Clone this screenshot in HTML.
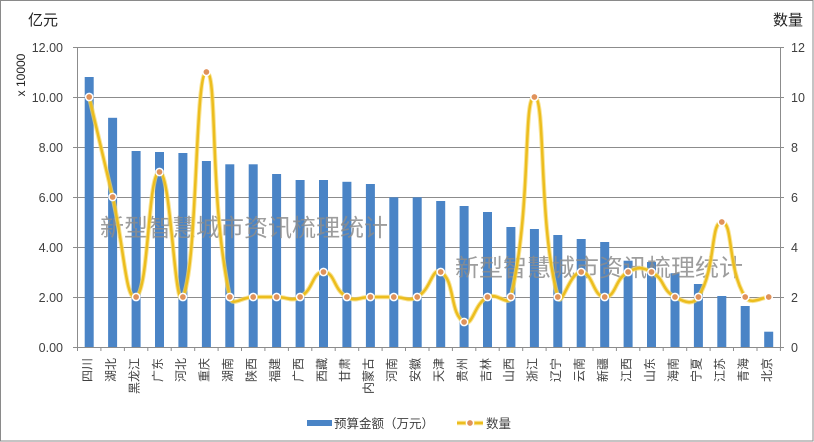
<!DOCTYPE html>
<html><head><meta charset="utf-8"><style>
html,body{margin:0;padding:0;background:#fff;}
svg{display:block;}
text{font-family:"Liberation Sans","Noto Sans CJK SC",sans-serif;}
</style></head><body>
<svg width="814" height="442" viewBox="0 0 814 442" xmlns="http://www.w3.org/2000/svg">
<rect x="0.5" y="0.5" width="812.5" height="440.5" fill="#fff" stroke="#8a8a8a" stroke-width="1"/>
<g stroke="#8c8c8c" stroke-width="1" fill="none">
<line x1="73" y1="47.5" x2="784" y2="47.5"/>
<line x1="73" y1="97.5" x2="784" y2="97.5"/>
<line x1="73" y1="147.5" x2="784" y2="147.5"/>
<line x1="73" y1="197.5" x2="784" y2="197.5"/>
<line x1="73" y1="247.5" x2="784" y2="247.5"/>
<line x1="73" y1="297.5" x2="784" y2="297.5"/>
<line x1="73" y1="347.5" x2="784" y2="347.5"/>
<line x1="77.5" y1="47" x2="77.5" y2="347"/>
<line x1="780.5" y1="47" x2="780.5" y2="347"/>
</g>
<g stroke="#8c8c8c" stroke-width="1">
<line x1="77.5" y1="347" x2="77.5" y2="351"/><line x1="100.9" y1="347" x2="100.9" y2="351"/><line x1="124.4" y1="347" x2="124.4" y2="351"/><line x1="147.8" y1="347" x2="147.8" y2="351"/><line x1="171.2" y1="347" x2="171.2" y2="351"/><line x1="194.7" y1="347" x2="194.7" y2="351"/><line x1="218.1" y1="347" x2="218.1" y2="351"/><line x1="241.5" y1="347" x2="241.5" y2="351"/><line x1="264.9" y1="347" x2="264.9" y2="351"/><line x1="288.4" y1="347" x2="288.4" y2="351"/><line x1="311.8" y1="347" x2="311.8" y2="351"/><line x1="335.2" y1="347" x2="335.2" y2="351"/><line x1="358.7" y1="347" x2="358.7" y2="351"/><line x1="382.1" y1="347" x2="382.1" y2="351"/><line x1="405.5" y1="347" x2="405.5" y2="351"/><line x1="429" y1="347" x2="429" y2="351"/><line x1="452.4" y1="347" x2="452.4" y2="351"/><line x1="475.8" y1="347" x2="475.8" y2="351"/><line x1="499.2" y1="347" x2="499.2" y2="351"/><line x1="522.7" y1="347" x2="522.7" y2="351"/><line x1="546.1" y1="347" x2="546.1" y2="351"/><line x1="569.5" y1="347" x2="569.5" y2="351"/><line x1="593" y1="347" x2="593" y2="351"/><line x1="616.4" y1="347" x2="616.4" y2="351"/><line x1="639.8" y1="347" x2="639.8" y2="351"/><line x1="663.2" y1="347" x2="663.2" y2="351"/><line x1="686.7" y1="347" x2="686.7" y2="351"/><line x1="710.1" y1="347" x2="710.1" y2="351"/><line x1="733.5" y1="347" x2="733.5" y2="351"/><line x1="757" y1="347" x2="757" y2="351"/><line x1="780.4" y1="347" x2="780.4" y2="351"/>
</g>
<g fill="#4a84c6">
<rect x="84.7" y="77" width="9" height="270"/>
<rect x="108.1" y="117.8" width="9" height="229.2"/>
<rect x="131.6" y="151" width="9" height="196"/>
<rect x="155" y="152" width="9" height="195"/>
<rect x="178.4" y="153" width="9" height="194"/>
<rect x="201.9" y="161" width="9" height="186"/>
<rect x="225.3" y="164.3" width="9" height="182.7"/>
<rect x="248.7" y="164.3" width="9" height="182.7"/>
<rect x="272.1" y="174" width="9" height="173"/>
<rect x="295.6" y="180" width="9" height="167"/>
<rect x="319" y="180" width="9" height="167"/>
<rect x="342.4" y="181.8" width="9" height="165.2"/>
<rect x="365.9" y="184" width="9" height="163"/>
<rect x="389.3" y="197.3" width="9" height="149.7"/>
<rect x="412.7" y="197.3" width="9" height="149.7"/>
<rect x="436.2" y="201" width="9" height="146"/>
<rect x="459.6" y="206" width="9" height="141"/>
<rect x="483" y="212" width="9" height="135"/>
<rect x="506.4" y="227" width="9" height="120"/>
<rect x="529.9" y="229" width="9" height="118"/>
<rect x="553.3" y="235" width="9" height="112"/>
<rect x="576.7" y="239" width="9" height="108"/>
<rect x="600.2" y="242" width="9" height="105"/>
<rect x="623.6" y="260.7" width="9" height="86.3"/>
<rect x="647" y="262" width="9" height="85"/>
<rect x="670.5" y="273.2" width="9" height="73.8"/>
<rect x="693.9" y="284" width="9" height="63"/>
<rect x="717.3" y="296" width="9" height="51"/>
<rect x="740.7" y="306" width="9" height="41"/>
<rect x="764.2" y="331.7" width="9" height="15.3"/>
</g>
<g font-size="24" fill="#8c8c8c" fill-opacity="0.85" font-family="'Noto Sans CJK SC',sans-serif">
<text x="100" y="236">新型智慧城市资讯梳理统计</text>
<text x="455" y="276">新型智慧城市资讯梳理统计</text>
</g>
<path d="M89.2,97 L112.6,197 C124.3,247 125.6,302.6 136.1,297 C149.1,290.1 147.8,172 159.5,172 C171.2,172 174.5,315 182.9,297 C197.9,265 194.7,72 206.4,72 C218.1,72 208.6,195 229.8,297 C232,307.6 241.5,297 253.2,297 L276.6,297 C288.3,297 290.6,302.1 300.1,297 C314,289.6 311.8,272 323.5,272 C335.2,272 333,289.6 346.9,297 C356.4,302.1 358.7,297 370.4,297 L393.8,297 C405.5,297 407.7,302.1 417.2,297 C431.1,289.6 431.7,267.2 440.7,272 C455.2,279.7 449.6,314.3 464.1,322 C473.1,326.8 473.6,304.4 487.5,297 C497,291.9 508.5,307.4 510.9,297 C531.9,207.4 522.7,97 534.4,97 C546.1,97 537.8,222.2 557.8,297 C561.2,309.7 569.5,272 581.2,272 C592.9,272 593,297 604.7,297 C616.4,297 614.2,279.4 628.1,272 C637.6,266.9 642,266.9 651.5,272 C665.4,279.4 661.1,289.6 675,297 C684.5,302.1 693,305.6 698.4,297 C716.5,268.1 710.1,222 721.8,222 C733.5,222 727.1,268.1 745.2,297 C750.6,305.6 762.8,297 768.7,297" fill="none" stroke="#f6d86a" stroke-width="4.5" stroke-linejoin="round" stroke-opacity="0.7"/>
<path d="M89.2,97 L112.6,197 C124.3,247 125.6,302.6 136.1,297 C149.1,290.1 147.8,172 159.5,172 C171.2,172 174.5,315 182.9,297 C197.9,265 194.7,72 206.4,72 C218.1,72 208.6,195 229.8,297 C232,307.6 241.5,297 253.2,297 L276.6,297 C288.3,297 290.6,302.1 300.1,297 C314,289.6 311.8,272 323.5,272 C335.2,272 333,289.6 346.9,297 C356.4,302.1 358.7,297 370.4,297 L393.8,297 C405.5,297 407.7,302.1 417.2,297 C431.1,289.6 431.7,267.2 440.7,272 C455.2,279.7 449.6,314.3 464.1,322 C473.1,326.8 473.6,304.4 487.5,297 C497,291.9 508.5,307.4 510.9,297 C531.9,207.4 522.7,97 534.4,97 C546.1,97 537.8,222.2 557.8,297 C561.2,309.7 569.5,272 581.2,272 C592.9,272 593,297 604.7,297 C616.4,297 614.2,279.4 628.1,272 C637.6,266.9 642,266.9 651.5,272 C665.4,279.4 661.1,289.6 675,297 C684.5,302.1 693,305.6 698.4,297 C716.5,268.1 710.1,222 721.8,222 C733.5,222 727.1,268.1 745.2,297 C750.6,305.6 762.8,297 768.7,297" fill="none" stroke="#ecbd1e" stroke-width="2.5" stroke-linejoin="round"/>
<g fill="#e0925a" stroke="#fff" stroke-width="1.5">
<circle cx="89.2" cy="97" r="3.6"/><circle cx="112.6" cy="197" r="3.6"/><circle cx="136.1" cy="297" r="3.6"/><circle cx="159.5" cy="172" r="3.6"/><circle cx="182.9" cy="297" r="3.6"/><circle cx="206.4" cy="72" r="3.6"/><circle cx="229.8" cy="297" r="3.6"/><circle cx="253.2" cy="297" r="3.6"/><circle cx="276.6" cy="297" r="3.6"/><circle cx="300.1" cy="297" r="3.6"/><circle cx="323.5" cy="272" r="3.6"/><circle cx="346.9" cy="297" r="3.6"/><circle cx="370.4" cy="297" r="3.6"/><circle cx="393.8" cy="297" r="3.6"/><circle cx="417.2" cy="297" r="3.6"/><circle cx="440.7" cy="272" r="3.6"/><circle cx="464.1" cy="322" r="3.6"/><circle cx="487.5" cy="297" r="3.6"/><circle cx="510.9" cy="297" r="3.6"/><circle cx="534.4" cy="97" r="3.6"/><circle cx="557.8" cy="297" r="3.6"/><circle cx="581.2" cy="272" r="3.6"/><circle cx="604.7" cy="297" r="3.6"/><circle cx="628.1" cy="272" r="3.6"/><circle cx="651.5" cy="272" r="3.6"/><circle cx="675" cy="297" r="3.6"/><circle cx="698.4" cy="297" r="3.6"/><circle cx="721.8" cy="222" r="3.6"/><circle cx="745.2" cy="297" r="3.6"/><circle cx="768.7" cy="297" r="3.6"/>
</g>
<g font-size="12.5" fill="#404040" text-anchor="end">
<text x="63" y="52">12.00</text>
<text x="63" y="102">10.00</text>
<text x="63" y="152">8.00</text>
<text x="63" y="202">6.00</text>
<text x="63" y="252">4.00</text>
<text x="63" y="302">2.00</text>
<text x="63" y="352">0.00</text>
</g>
<g font-size="12.5" fill="#404040">
<text x="791" y="52">12</text>
<text x="791" y="102">10</text>
<text x="791" y="152">8</text>
<text x="791" y="202">6</text>
<text x="791" y="252">4</text>
<text x="791" y="302">2</text>
<text x="791" y="352">0</text>
</g>
<text x="28" y="25" font-size="15" fill="#222">亿元</text>
<text x="773" y="25" font-size="15" fill="#222">数量</text>
<text transform="translate(25,75) rotate(-90)" text-anchor="middle" font-size="12" fill="#222">x 10000</text>
<g font-size="12" fill="#404040" text-anchor="end">
<text transform="translate(91.5,358) rotate(-90)">四川</text>
<text transform="translate(114.9,358) rotate(-90)">湖北</text>
<text transform="translate(138.4,358) rotate(-90)">黑龙江</text>
<text transform="translate(161.8,358) rotate(-90)">广东</text>
<text transform="translate(185.2,358) rotate(-90)">河北</text>
<text transform="translate(208.7,358) rotate(-90)">重庆</text>
<text transform="translate(232.1,358) rotate(-90)">湖南</text>
<text transform="translate(255.5,358) rotate(-90)">陕西</text>
<text transform="translate(278.9,358) rotate(-90)">福建</text>
<text transform="translate(302.4,358) rotate(-90)">广西</text>
<text transform="translate(325.8,358) rotate(-90)">西藏</text>
<text transform="translate(349.2,358) rotate(-90)">甘肃</text>
<text transform="translate(372.7,358) rotate(-90)">内蒙古</text>
<text transform="translate(396.1,358) rotate(-90)">河南</text>
<text transform="translate(419.5,358) rotate(-90)">安徽</text>
<text transform="translate(443,358) rotate(-90)">天津</text>
<text transform="translate(466.4,358) rotate(-90)">贵州</text>
<text transform="translate(489.8,358) rotate(-90)">吉林</text>
<text transform="translate(513.2,358) rotate(-90)">山西</text>
<text transform="translate(536.7,358) rotate(-90)">浙江</text>
<text transform="translate(560.1,358) rotate(-90)">辽宁</text>
<text transform="translate(583.5,358) rotate(-90)">云南</text>
<text transform="translate(607,358) rotate(-90)">新疆</text>
<text transform="translate(630.4,358) rotate(-90)">江西</text>
<text transform="translate(653.8,358) rotate(-90)">山东</text>
<text transform="translate(677.3,358) rotate(-90)">海南</text>
<text transform="translate(700.7,358) rotate(-90)">宁夏</text>
<text transform="translate(724.1,358) rotate(-90)">江苏</text>
<text transform="translate(747.5,358) rotate(-90)">青海</text>
<text transform="translate(771,358) rotate(-90)">北京</text>
</g>
<rect x="307" y="420" width="25" height="6" fill="#4a84c6"/>
<text x="334" y="428" font-size="12.5" fill="#404040">预算金额（万元）</text>
<line x1="457" y1="423" x2="483" y2="423" stroke="#f6d86a" stroke-width="4.5" stroke-opacity="0.7"/>
<line x1="457" y1="423" x2="483" y2="423" stroke="#ecbd1e" stroke-width="2.5"/>
<circle cx="470" cy="423" r="3.6" fill="#e0925a" stroke="#fff" stroke-width="1.5"/>
<text x="486" y="428" font-size="12.5" fill="#404040">数量</text>
</svg>
</body></html>
